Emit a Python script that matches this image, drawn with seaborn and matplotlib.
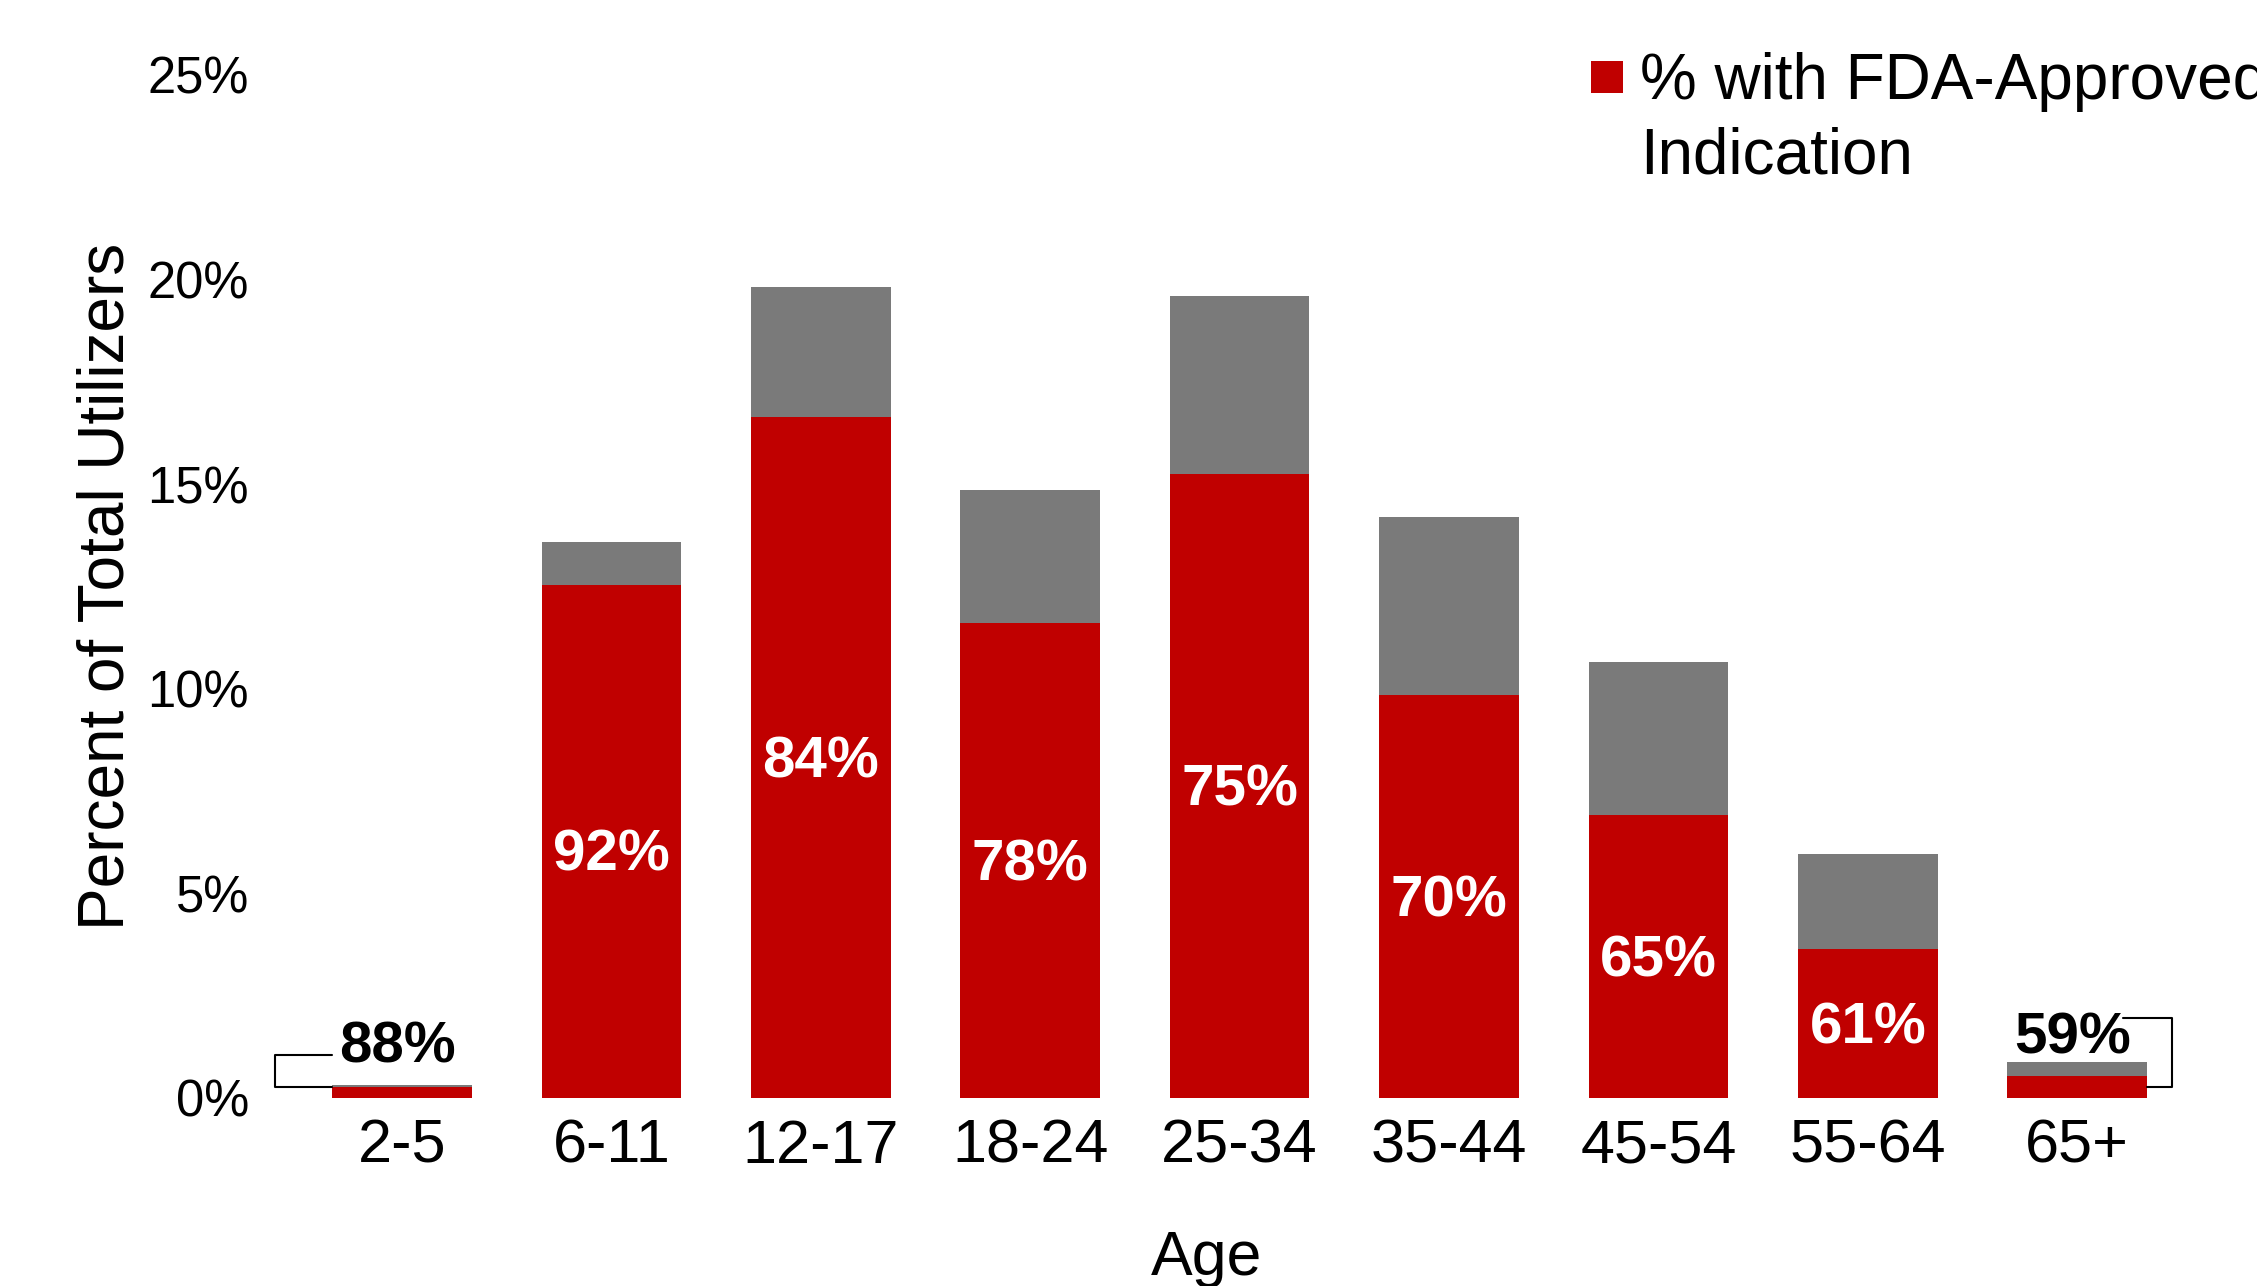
import matplotlib
matplotlib.use("Agg")
import matplotlib.pyplot as plt
import seaborn as sns
import pandas as pd
from matplotlib.patches import Patch

# ---- data ----
ages = ["2-5", "6-11", "12-17", "18-24", "25-34", "35-44", "45-54", "55-64", "65+"]
total_pct = [0.32, 13.59, 19.82, 14.86, 19.61, 14.19, 10.65, 5.96, 0.88]
fda_pct = [0.28, 12.53, 16.65, 11.62, 15.25, 9.86, 6.92, 3.64, 0.53]
share_labels = ["88%", "92%", "84%", "78%", "75%", "70%", "65%", "61%", "59%"]
y_ticks = [0, 5, 10, 15, 20, 25]
legend_lines = ["% with FDA-Approved", "Indication"]

RED = "#C00000"
GRAY = "#7A7A7A"
BAR_W = 0.667

sns.set_theme(style="white")
plt.rcParams['font.family'] = ['Liberation Sans', 'DejaVu Sans']

fig = plt.figure(figsize=(22.57, 12.86), dpi=100)
ax = fig.add_axes([0.13172, 0.14619, 0.83500, 0.79549])

df = pd.DataFrame({"Age": ages, "Total": total_pct, "FDA": fda_pct})
sns.barplot(data=df, x="Age", y="Total", order=ages, color=GRAY, saturation=1,
            width=BAR_W, errorbar=None, linewidth=0, ax=ax)
sns.barplot(data=df, x="Age", y="FDA", order=ages, color=RED, saturation=1,
            width=BAR_W, errorbar=None, linewidth=0, ax=ax)

# labels inside red bars (centred in the red segment)
for i, bar in enumerate(ax.containers[1]):
    if i in (0, len(ages) - 1):
        continue
    cx = bar.get_x() + bar.get_width() / 2
    cy = bar.get_y() + bar.get_height() / 2
    dy = -10 if i == 1 else -3.5
    ax.annotate(share_labels[i], xy=(cx, cy), xytext=(0, dy), textcoords="offset points",
                ha="center", va="center", color="white", fontsize=42, fontweight="bold")

# outside labels for the tiny bars
ax.text(0 - 0.02, total_pct[0] + 0.54, share_labels[0], ha="center", va="baseline",
        fontsize=42, fontweight="bold", color="black")
ax.text(len(ages) - 1 - 0.02, total_pct[-1] + 0.2, share_labels[-1], ha="center",
        va="baseline", fontsize=42, fontweight="bold", color="black")

# bracket connectors
bl = 0 - BAR_W / 2
ax.plot([bl, bl - 0.275, bl - 0.275, bl], [1.05, 1.05, fda_pct[0], fda_pct[0]],
        color="black", lw=1.5, solid_joinstyle="round", clip_on=False)
br = len(ages) - 1 + BAR_W / 2
ax.plot([br - 0.117, br + 0.12, br + 0.12, br],
        [1.95, 1.95, fda_pct[-1] / 2, fda_pct[-1] / 2],
        color="black", lw=1.5, solid_joinstyle="round", clip_on=False)

ax.set_xlim(-0.5, len(ages) - 0.5)
ax.set_ylim(0, 25)
ax.set_yticks(y_ticks)
ax.set_yticklabels([f"{t}%" for t in y_ticks])
ax.tick_params(axis="y", length=0, pad=34.8, labelsize=36.5, colors="black")
ax.tick_params(axis="x", length=0, pad=15, labelsize=44, colors="black")
sns.despine(ax=ax, left=True, bottom=True)
ax.grid(False)

ax.set_xlabel("Age", fontsize=45, color="black")
ax.xaxis.set_label_coords(0.4826, -0.128)
ax.set_ylabel("Percent of Total Utilizers", fontsize=46, color="black")
ax.yaxis.set_label_coords(-0.0855, 0.5)

handles = [Patch(facecolor=RED, edgecolor="none"),
           Patch(facecolor="none", edgecolor="none")]
fig.legend(handles, legend_lines, loc="upper left", bbox_to_anchor=(0.7049, 0.9592),
           frameon=False, fontsize=46, handlelength=0.5, handleheight=0.392,
           handletextpad=0.275, borderpad=0, borderaxespad=0, labelspacing=0.22,
           labelcolor="black")

fig.savefig("out.png", dpi=100)
